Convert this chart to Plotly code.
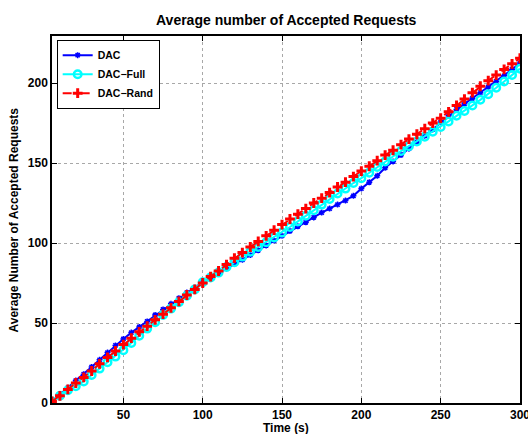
import plotly.graph_objects as go

time_s = list(range(5, 301, 5))

dac = [1, 5, 9.5, 14, 18, 22.5, 27, 31.5, 36, 40,
       44, 47.5, 51, 55, 58.5, 62, 65.5, 69, 72, 75.5,
       78.5, 81, 84, 87, 89.5, 92.5, 95.5, 98.5, 101.5, 104.5,
       107.5, 110.5, 113, 116, 119, 121.5, 124, 126.5, 129.5, 134,
       138, 142, 147, 151, 155, 159, 163, 167, 171, 175.5,
       179.5, 183.5, 187, 190.5, 194, 197.5, 201, 204.5, 208.5, 212.5]

dac_full = [1, 4.5, 8, 10.5, 13.5, 17.5, 21.5, 25.5, 29, 33,
            37.5, 42, 46.5, 50.5, 55, 59, 63, 67, 71, 75.5,
            78.5, 81.5, 85, 88, 91.5, 94.5, 97.5, 100.5, 103.5, 106.5,
            110, 113.5, 117, 120.5, 124, 127.5, 131, 134, 137.5, 140.5,
            144, 147.5, 151, 154, 157.5, 160.5, 163.5, 166.5, 169.5, 172.5,
            176, 179.5, 182.5, 186, 189.5, 193, 197, 201, 205, 209]

dac_rand = [1, 4.5, 8.5, 12.5, 16, 20, 24.5, 28.5, 32.5, 36.5,
            40.5, 44.5, 48, 52, 55.5, 59.5, 63.5, 67.5, 71, 75,
            79, 82.5, 86.5, 90.5, 94, 97.5, 101, 104.5, 108, 111.5,
            115, 118, 121.5, 125, 128, 131.5, 135, 138, 141.5, 145,
            148, 151.5, 155, 158, 161.5, 165, 168, 171.5, 175, 178,
            182, 186, 190, 194, 198, 201.5, 205, 208.5, 212, 215.5]

x_ticks = [50, 100, 150, 200, 250, 300]
y_ticks = [0, 50, 100, 150, 200]

FONT = "Liberation Sans, Arial, Helvetica, sans-serif"

fig = go.Figure()
fig.add_trace(go.Scatter(
    x=time_s, y=dac, name="<b>DAC</b>", mode="lines+markers",
    line=dict(color="#0000ff", width=2),
    marker=dict(symbol="asterisk-open", size=5, color="#0000ff",
                line=dict(color="#0000ff", width=1.5))))
fig.add_trace(go.Scatter(
    x=time_s, y=dac_full, name="<b>DAC\u2212Full</b>", mode="lines+markers",
    line=dict(color="#00ffff", width=2),
    marker=dict(symbol="circle-open", size=7.5, color="#00ffff",
                line=dict(color="#00ffff", width=2.5))))
fig.add_trace(go.Scatter(
    x=time_s, y=dac_rand, name="<b>DAC\u2212Rand</b>", mode="lines+markers",
    line=dict(color="#ff0000", width=2, dash="dash"),
    marker=dict(symbol="cross-thin-open", size=7, color="#ff0000",
                line=dict(color="#ff0000", width=3))))

axis_common = dict(
    showline=True, linecolor="black", linewidth=1.5, mirror="ticks",
    ticks="inside", ticklen=5, tickcolor="black", tickwidth=1,
    showgrid=True, gridcolor="#a8a8a8", griddash="dot", gridwidth=1,
    zeroline=False, ticklabeloverflow="allow", automargin=False,
    tickfont=dict(family=FONT, size=12, color="black"),
)

fig.update_layout(
    width=528, height=434,
    margin=dict(l=52, r=8, t=36, b=31, autoexpand=False),
    paper_bgcolor="white", plot_bgcolor="white",
    font=dict(family=FONT, color="black"),
    xaxis=dict(range=[5, 300.01], tickvals=x_ticks,
               ticktext=[f"<b>{v}</b>" for v in x_ticks],
               **axis_common),
    yaxis=dict(range=[0, 229.4], tickvals=y_ticks,
               ticktext=[f"<b>{v}</b>" for v in y_ticks],
               **axis_common),
    legend=dict(x=0.01, y=0.99, xanchor="left", yanchor="top",
                bgcolor="white", bordercolor="black", borderwidth=1,
                font=dict(family=FONT, size=10.5, color="black"),
                tracegroupgap=0, itemwidth=30),
    showlegend=True,
    annotations=[
        dict(text="<b>Average number of Accepted Requests</b>", xref="paper", yref="paper",
             x=0.5, y=1.0436, xanchor="center", yanchor="middle", showarrow=False,
             font=dict(family=FONT, size=14, color="black")),
        dict(text="<b>Time (s)</b>", xref="paper", yref="paper",
             x=0.5, y=-0.068, xanchor="center", yanchor="middle", showarrow=False,
             font=dict(family=FONT, size=12, color="black")),
        dict(text="<b>Average Number of Accepted Requests</b>", xref="paper", yref="paper",
             x=-0.0812, y=0.5, xanchor="center", yanchor="middle", showarrow=False,
             textangle=-90, font=dict(family=FONT, size=12, color="black")),
    ],
)

fig.write_html("out.html", config={"displayModeBar": False},
               post_script="document.body.style.margin='0';document.body.style.overflow='hidden';")
